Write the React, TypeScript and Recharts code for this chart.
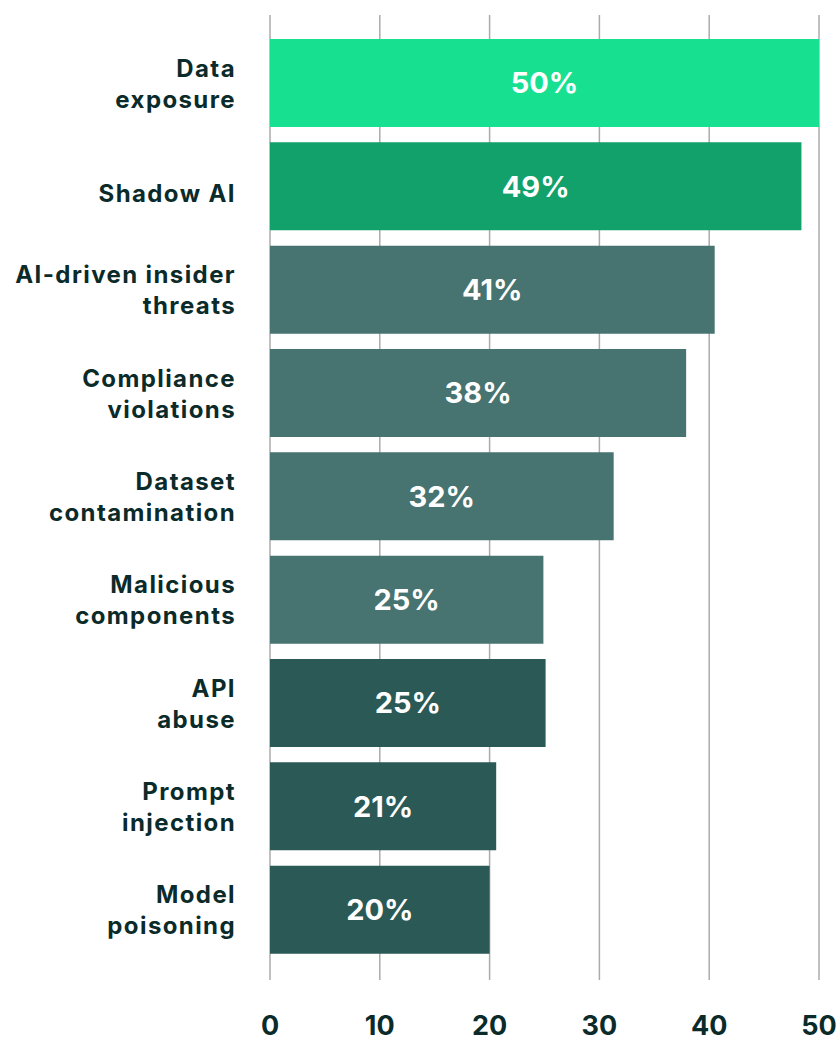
import { BarChart, Bar, XAxis, YAxis, CartesianGrid, Cell, LabelList } from 'recharts';

const categories = [
    'Data\nexposure',
    'Shadow AI',
    'AI-driven insider\nthreats',
    'Compliance\nviolations',
    'Dataset\ncontamination',
    'Malicious\ncomponents',
    'API\nabuse',
    'Prompt\ninjection',
    'Model\npoisoning',
];
const values = [50, 48.4, 40.5, 37.9, 31.3, 24.9, 25.1, 20.6, 20.0];
const valueLabels = ['50%', '49%', '41%', '38%', '32%', '25%', '25%', '21%', '20%'];
const barColors = [
    '#17E191', '#12A16B',
    '#477370', '#477370', '#477370', '#477370',
    '#2A5956', '#2A5956', '#2A5956',
];
const xTicks = [0, 10, 20, 30, 40, 50];

const data = categories.map((name, i) => ({ name, value: values[i], label: valueLabels[i] }));

const FONT = 'Inter, "Noto Sans", sans-serif';
const INK = '#0B2B2A';

function CategoryTick({ x, y, payload }: any) {
    const lines = String(payload.value).split('\n');
    const first = y + 16 - (lines.length - 1) * 22;
    return (
        <text textAnchor="end" fill={INK} fontFamily={FONT} fontWeight={700} fontSize={24}
            letterSpacing={1.4}>
            {lines.map((l, i) => (
                <tspan key={i} x={x + 1} y={first + i * 31}>{l}</tspan>
            ))}
        </text>
    );
}

function ValueTick({ x, y, payload }: any) {
    return (
        <text x={x} y={y + 55} textAnchor="middle" fill={INK}
            fontFamily={FONT} fontWeight={700} fontSize={27}>
            {payload.value}
        </text>
    );
}

export default function App() {
    return (
        <div style={{ position: 'absolute', left: 0, top: 0, background: '#fff' }}>
            <BarChart
                width={839}
                height={1042}
                data={data}
                layout="vertical"
                margin={{ top: 15, right: 20, left: 0, bottom: 0 }}
                barSize={88}
            >
                <CartesianGrid horizontal={false} stroke="#ababab" strokeWidth={1.5} />
                <XAxis
                    type="number"
                    domain={[0, 50]}
                    ticks={xTicks}
                    axisLine={false}
                    tickLine={false}
                    tickSize={0}
                    tickMargin={0}
                    height={62}
                    tick={<ValueTick />}
                />
                <YAxis
                    type="category"
                    dataKey="name"
                    width={270}
                    axisLine={false}
                    tickLine={false}
                    tickSize={0}
                    tickMargin={35}
                    padding={{ top: 16, bottom: 19 }}
                    tick={<CategoryTick />}
                    interval={0}
                />
                <Bar dataKey="value" isAnimationActive={false}>
                    {data.map((d, i) => (
                        <Cell key={d.name} fill={barColors[i]} />
                    ))}
                    <LabelList
                        dataKey="label"
                        position="center"
                        fill="#ffffff"
                        fontFamily={FONT}
                        fontWeight={700}
                        fontSize={29}
                    />
                </Bar>
            </BarChart>
        </div>
    );
}
